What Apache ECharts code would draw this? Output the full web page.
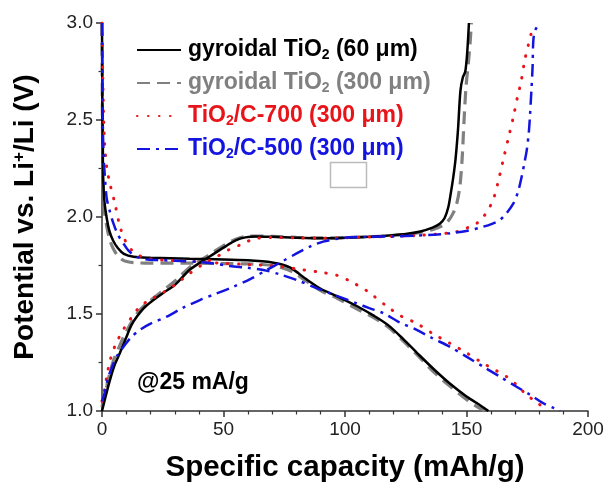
<!DOCTYPE html>
<html>
<head>
<meta charset="utf-8">
<script src="https://cdn.jsdelivr.net/npm/echarts@6/dist/echarts.min.js"></script>
<style>html,body{margin:0;padding:0;background:#fff}#c{width:608px;height:488px}</style>
</head>
<body>
<div id="c"></div>
<script>
// Series names (legend order)
const seriesNames = ['gyroidal TiO2 (60 μm)', 'gyroidal TiO2 (300 μm)', 'TiO2/C-700 (300 μm)', 'TiO2/C-500 (300 μm)'];
const xTicks = [0, 50, 100, 150, 200];
const yTicks = [1.0, 1.5, 2.0, 2.5, 3.0];

// [capacity mAh/g, potential V]
const gyro60Discharge = [[0,3.0],[0.2,2.5],[0.5,2.2],[1,2.08],[2,1.99],[3,1.93],[4.5,1.88],[6.5,1.84],[9,1.81],[13,1.795],[20,1.79],[36,1.785],[50,1.781],[60,1.777],[66,1.772],[70,1.766],[74,1.755],[78,1.735],[84,1.68],[90,1.63],[97,1.59],[105,1.54],[112,1.49],[118,1.44],[124,1.37],[130,1.295],[137,1.21],[143,1.143],[150,1.075],[155,1.035],[159,1.0]];
const gyro60Charge = [[0,1.0],[1,1.05],[2,1.1],[3.3,1.16],[5,1.23],[7.4,1.3],[10,1.38],[12,1.44],[14.3,1.486],[18,1.54],[25,1.607],[30,1.65],[36,1.727],[41,1.77],[46,1.81],[51,1.85],[55,1.88],[59,1.895],[63,1.9],[70,1.898],[80,1.893],[91,1.89],[100,1.893],[110,1.898],[118,1.905],[125,1.912],[131,1.925],[136,1.945],[139,1.965],[141,1.995],[142.5,2.05],[143.5,2.12],[144.5,2.2],[145.5,2.3],[146.5,2.45],[147.5,2.65],[148.5,2.72],[149.5,2.75],[150.3,2.85],[151,3.0]];
const gyro300Discharge = [[0,3.0],[0.2,2.45],[0.5,2.15],[1,2.03],[2,1.95],[3,1.89],[4.5,1.84],[6.5,1.8],[9,1.775],[13,1.765],[20,1.762],[36,1.762],[50,1.76],[60,1.758],[66,1.755],[72,1.745],[78,1.72],[84,1.67],[90,1.62],[97,1.58],[105,1.525],[112,1.48],[118,1.43],[124,1.36],[130,1.285],[137,1.195],[143,1.13],[150,1.06],[154,1.025],[157.5,1.0]];
const gyro300Charge = [[0,1.02],[1,1.08],[2,1.13],[3.3,1.2],[5,1.27],[7.4,1.34],[10,1.41],[14.3,1.5],[18,1.55],[25,1.62],[30,1.67],[36,1.74],[41,1.78],[46,1.82],[51,1.86],[55,1.885],[59,1.9],[63,1.902],[70,1.9],[80,1.895],[91,1.892],[100,1.894],[110,1.898],[118,1.903],[125,1.91],[131,1.92],[136,1.935],[140,1.955],[142.5,1.98],[144.5,2.02],[146,2.07],[147.3,2.16],[148.2,2.3],[149,2.5],[149.8,2.67],[150.8,2.8],[151.5,2.9],[152,3.0]];
const c700Discharge = [[0,3.0],[0.5,2.6],[1,2.4],[1.9,2.26],[3.3,2.17],[5.3,2.07],[7.4,1.95],[9.5,1.88],[11.5,1.84],[14,1.81],[18.4,1.787],[25,1.778],[35,1.773],[45,1.765],[50,1.761],[60,1.755],[72,1.747],[83,1.727],[90,1.715],[96.6,1.7],[102,1.67],[108.9,1.62],[117.2,1.54],[123,1.49],[129.5,1.452],[136,1.4],[143.2,1.349],[150,1.3],[156.9,1.246],[162,1.21],[166.5,1.177],[171,1.13],[174.8,1.082],[179.5,1.04],[183,1.0]];
const c700Charge = [[0,1.05],[1,1.11],[2,1.18],[3.3,1.26],[5.5,1.34],[8.8,1.42],[12,1.48],[15.6,1.538],[20,1.575],[25,1.61],[30,1.65],[36.2,1.71],[42,1.76],[47.2,1.795],[52,1.83],[56.8,1.856],[60,1.875],[63.7,1.89],[70,1.895],[80,1.893],[90,1.891],[100,1.893],[110,1.897],[120,1.9],[130,1.905],[138,1.912],[146,1.924],[151.4,1.95],[154.5,1.97],[156.9,2.0],[159,2.04],[161,2.088],[163,2.18],[165.1,2.294],[167.3,2.41],[169.3,2.517],[171,2.62],[172.5,2.7],[174,2.81],[175.5,2.89],[176.8,2.955],[177.5,2.99]];
const c500Discharge = [[0,3.0],[0.3,2.5],[0.7,2.3],[1.1,2.225],[1.9,2.1],[3.2,2.03],[4.7,1.967],[6.5,1.91],[8.8,1.864],[11,1.825],[14.3,1.795],[18,1.782],[22.5,1.778],[30,1.775],[40,1.768],[46,1.76],[52.7,1.747],[60,1.738],[66.4,1.727],[73,1.705],[80.1,1.675],[87,1.64],[93.8,1.607],[100,1.578],[104.8,1.555],[110,1.53],[115.8,1.504],[122,1.46],[129.5,1.418],[136,1.375],[143.2,1.331],[150,1.28],[156.9,1.228],[164,1.175],[170.6,1.125],[176,1.085],[181.6,1.04],[186,1.015],[188.5,1.0]];
const c500Charge = [[0,1.05],[1,1.09],[2.5,1.17],[4.7,1.245],[6.5,1.29],[8.8,1.33],[12,1.38],[15.6,1.418],[20,1.45],[26.6,1.486],[33,1.53],[40.3,1.572],[47,1.605],[54,1.64],[61,1.68],[67.8,1.727],[74,1.77],[80.1,1.812],[86,1.85],[91,1.873],[96,1.886],[102,1.895],[110,1.898],[120,1.9],[130,1.905],[138,1.91],[143.2,1.916],[150,1.928],[156.9,1.95],[160.5,1.965],[163.8,1.985],[166.5,2.02],[169.3,2.07],[171.2,2.13],[172.7,2.208],[174,2.29],[174.8,2.345],[175.6,2.43],[176.1,2.517],[176.7,2.65],[177.2,2.775],[177.5,2.91],[178.2,2.96],[179.5,2.99]];

const FONT = 'Arial, "Liberation Sans", Helvetica, sans-serif';
const colors = ['#000000', '#808080', '#e8141a', '#1414e0'];
const styles = [
  { width: 2.5, type: 'solid' },
  { width: 3.2, type: [13, 7] },
  { width: 3, type: [0.5, 10.5], cap: 'round' },
  { width: 2.5, type: [13, 6, 3, 6] }
];

function mk(idx, data, z) {
  return {
    name: seriesNames[idx], type: 'line', data: data, symbol: 'none', smooth: 0.3,
    z: z, silent: true, animation: false,
    lineStyle: Object.assign({ color: colors[idx] }, styles[idx]),
    itemStyle: { color: colors[idx] }
  };
}

const chart = echarts.init(document.getElementById('c'), null, { renderer: 'canvas' });
chart.setOption({
  backgroundColor: '#fff',
  animation: false,
  grid: { left: 102, right: 20, top: 23, bottom: 77, containLabel: false, outerBoundsMode: 'none' },
  xAxis: {
    type: 'value', min: 0, max: 200, interval: 50,
    name: 'Specific capacity (mAh/g)', nameLocation: 'middle', nameGap: 42,
    nameTextStyle: { fontFamily: FONT, fontSize: 29.5, fontWeight: 'bold', color: '#000' },
    axisLine: { onZero: false, lineStyle: { color: '#333', width: 1.5 } },
    axisTick: { inside: false, length: 6, lineStyle: { color: '#333', width: 1.5 } },
    minorTick: { show: true, splitNumber: 5, length: 3.5, lineStyle: { color: '#333', width: 1.2 } },
    splitLine: { show: false },
    axisLabel: { fontFamily: FONT, fontSize: 19, color: '#222', margin: 9,
      formatter: v => xTicks.includes(v) ? String(v) : '' }
  },
  yAxis: {
    type: 'value', min: 1.0, max: 3.0, interval: 0.5,
    name: 'Potential vs. Li{sup|+}/Li (V)', nameLocation: 'middle', nameGap: 62,
    nameTextStyle: { fontFamily: FONT, fontSize: 28, fontWeight: 'bold', color: '#000',
      rich: { sup: { fontFamily: FONT, fontSize: 17, fontWeight: 'bold', color: '#000', verticalAlign: 'top', padding: [0, 0, 12, 0] } } },
    axisLine: { onZero: false, lineStyle: { color: '#333', width: 1.5 } },
    axisTick: { inside: false, length: 6, lineStyle: { color: '#333', width: 1.5 } },
    minorTick: { show: true, splitNumber: 2, length: 3.5, lineStyle: { color: '#333', width: 1.2 } },
    splitLine: { show: false },
    axisLabel: { fontFamily: FONT, fontSize: 19, color: '#222', margin: 9,
      formatter: v => yTicks.some(t => Math.abs(t - v) < 1e-9) ? v.toFixed(1) : '' }
  },
  legend: {
    orient: 'vertical', left: 131, top: 33, itemWidth: 44, itemHeight: 1, itemGap: 9,
    selectedMode: false,
    itemStyle: { opacity: 0 },
    data: seriesNames.map((n, i) => ({ name: n, textStyle: { color: colors[i] } })),
    formatter: n => n.replace('TiO2', 'TiO{s|2}'),
    textStyle: { fontFamily: FONT, fontSize: 23, fontWeight: 'bold', lineHeight: 24, padding: [0, 0, 0, 2],
      rich: { s: { fontFamily: FONT, fontSize: 14, fontWeight: 'bold', verticalAlign: 'bottom', padding: [8, 0, 0, 0] } } }
  },
  graphic: [
    { type: 'rect', left: 328, top: 160, shape: { width: 36, height: 25 },
      style: { fill: 'none', stroke: '#bbbbbb', lineWidth: 1.5 }, silent: true },
    { type: 'text', left: 137, top: 371,
      style: { text: '@25 mA/g', font: 'bold 23px ' + FONT, fill: '#000' }, silent: true }
  ],
  series: [
    mk(1, gyro300Discharge, 2), mk(1, gyro300Charge, 2),
    mk(0, gyro60Discharge, 3), mk(0, gyro60Charge, 3),
    mk(2, c700Discharge, 4), mk(2, c700Charge, 4),
    mk(3, c500Discharge, 5), mk(3, c500Charge, 5)
  ]
});
</script>
</body>
</html>
